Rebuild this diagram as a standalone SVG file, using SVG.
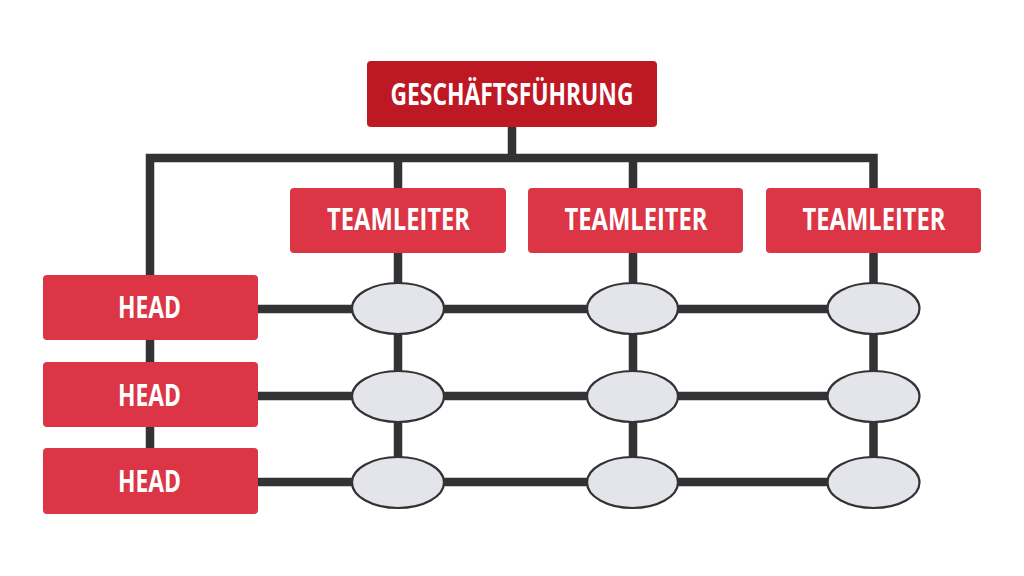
<svg xmlns="http://www.w3.org/2000/svg" width="1024" height="576" viewBox="0 0 1024 576">
<style>
.line{stroke:#333235;stroke-width:8.5;fill:none;stroke-linecap:butt;stroke-linejoin:miter}
.top{fill:#BE1824}
.box{fill:#DC3545}
.lbl{font-family:"Open Sans","Liberation Sans",sans-serif;font-weight:bold;font-size:31px;fill:#FFFFFF;text-anchor:middle}
.node{fill:#E4E5EA;stroke:#333235;stroke-width:2.2}
</style>
<rect width="1024" height="576" fill="#FFFFFF"/>
<g id="connectors">
<path class="line" d="M512 127 V158 M150 448 V158 H873.5 V482.5 M398 158 V482.5 M633 158 V482.5"/>
<path class="line" d="M258 309 H873.5 M258 396 H873.5 M258 482 H873.5"/>
</g>
<g id="geschaeftsfuehrung">
<rect class="top" x="367" y="61" width="290" height="66" rx="4"/>
<text class="lbl" x="512" y="105" textLength="243" lengthAdjust="spacingAndGlyphs">GESCHÄFTSFÜHRUNG</text>
</g>
<g id="teamleiter1">
<rect class="box" x="290" y="188" width="216" height="65" rx="4"/>
<text class="lbl" x="398.5" y="230" textLength="143" lengthAdjust="spacingAndGlyphs">TEAMLEITER</text>
</g>
<g id="teamleiter2">
<rect class="box" x="528" y="188" width="215" height="65" rx="4"/>
<text class="lbl" x="636" y="230" textLength="143" lengthAdjust="spacingAndGlyphs">TEAMLEITER</text>
</g>
<g id="teamleiter3">
<rect class="box" x="766" y="188" width="215" height="65" rx="4"/>
<text class="lbl" x="874" y="230" textLength="143" lengthAdjust="spacingAndGlyphs">TEAMLEITER</text>
</g>
<g id="head1">
<rect class="box" x="43" y="275" width="215" height="65" rx="4"/>
<text class="lbl" x="149.5" y="318" textLength="63" lengthAdjust="spacingAndGlyphs">HEAD</text>
</g>
<g id="head2">
<rect class="box" x="43" y="362" width="215" height="65" rx="4"/>
<text class="lbl" x="149.5" y="406" textLength="63" lengthAdjust="spacingAndGlyphs">HEAD</text>
</g>
<g id="head3">
<rect class="box" x="43" y="448" width="215" height="66" rx="4"/>
<text class="lbl" x="149.5" y="492" textLength="63" lengthAdjust="spacingAndGlyphs">HEAD</text>
</g>
<g id="n11"><ellipse class="node" cx="398" cy="308.5" rx="46" ry="25.5"/></g>
<g id="n12"><ellipse class="node" cx="632.5" cy="308.5" rx="45.5" ry="25.5"/></g>
<g id="n13"><ellipse class="node" cx="873.5" cy="308.5" rx="46" ry="25.5"/></g>
<g id="n21"><ellipse class="node" cx="398" cy="396.5" rx="46" ry="25.5"/></g>
<g id="n22"><ellipse class="node" cx="632.5" cy="396.5" rx="45.5" ry="25.5"/></g>
<g id="n23"><ellipse class="node" cx="873.5" cy="396.5" rx="46" ry="25.5"/></g>
<g id="n31"><ellipse class="node" cx="398" cy="482.5" rx="46" ry="25.5"/></g>
<g id="n32"><ellipse class="node" cx="632.5" cy="482.5" rx="45.5" ry="25.5"/></g>
<g id="n33"><ellipse class="node" cx="873.5" cy="482.5" rx="46" ry="25.5"/></g>
</svg>
